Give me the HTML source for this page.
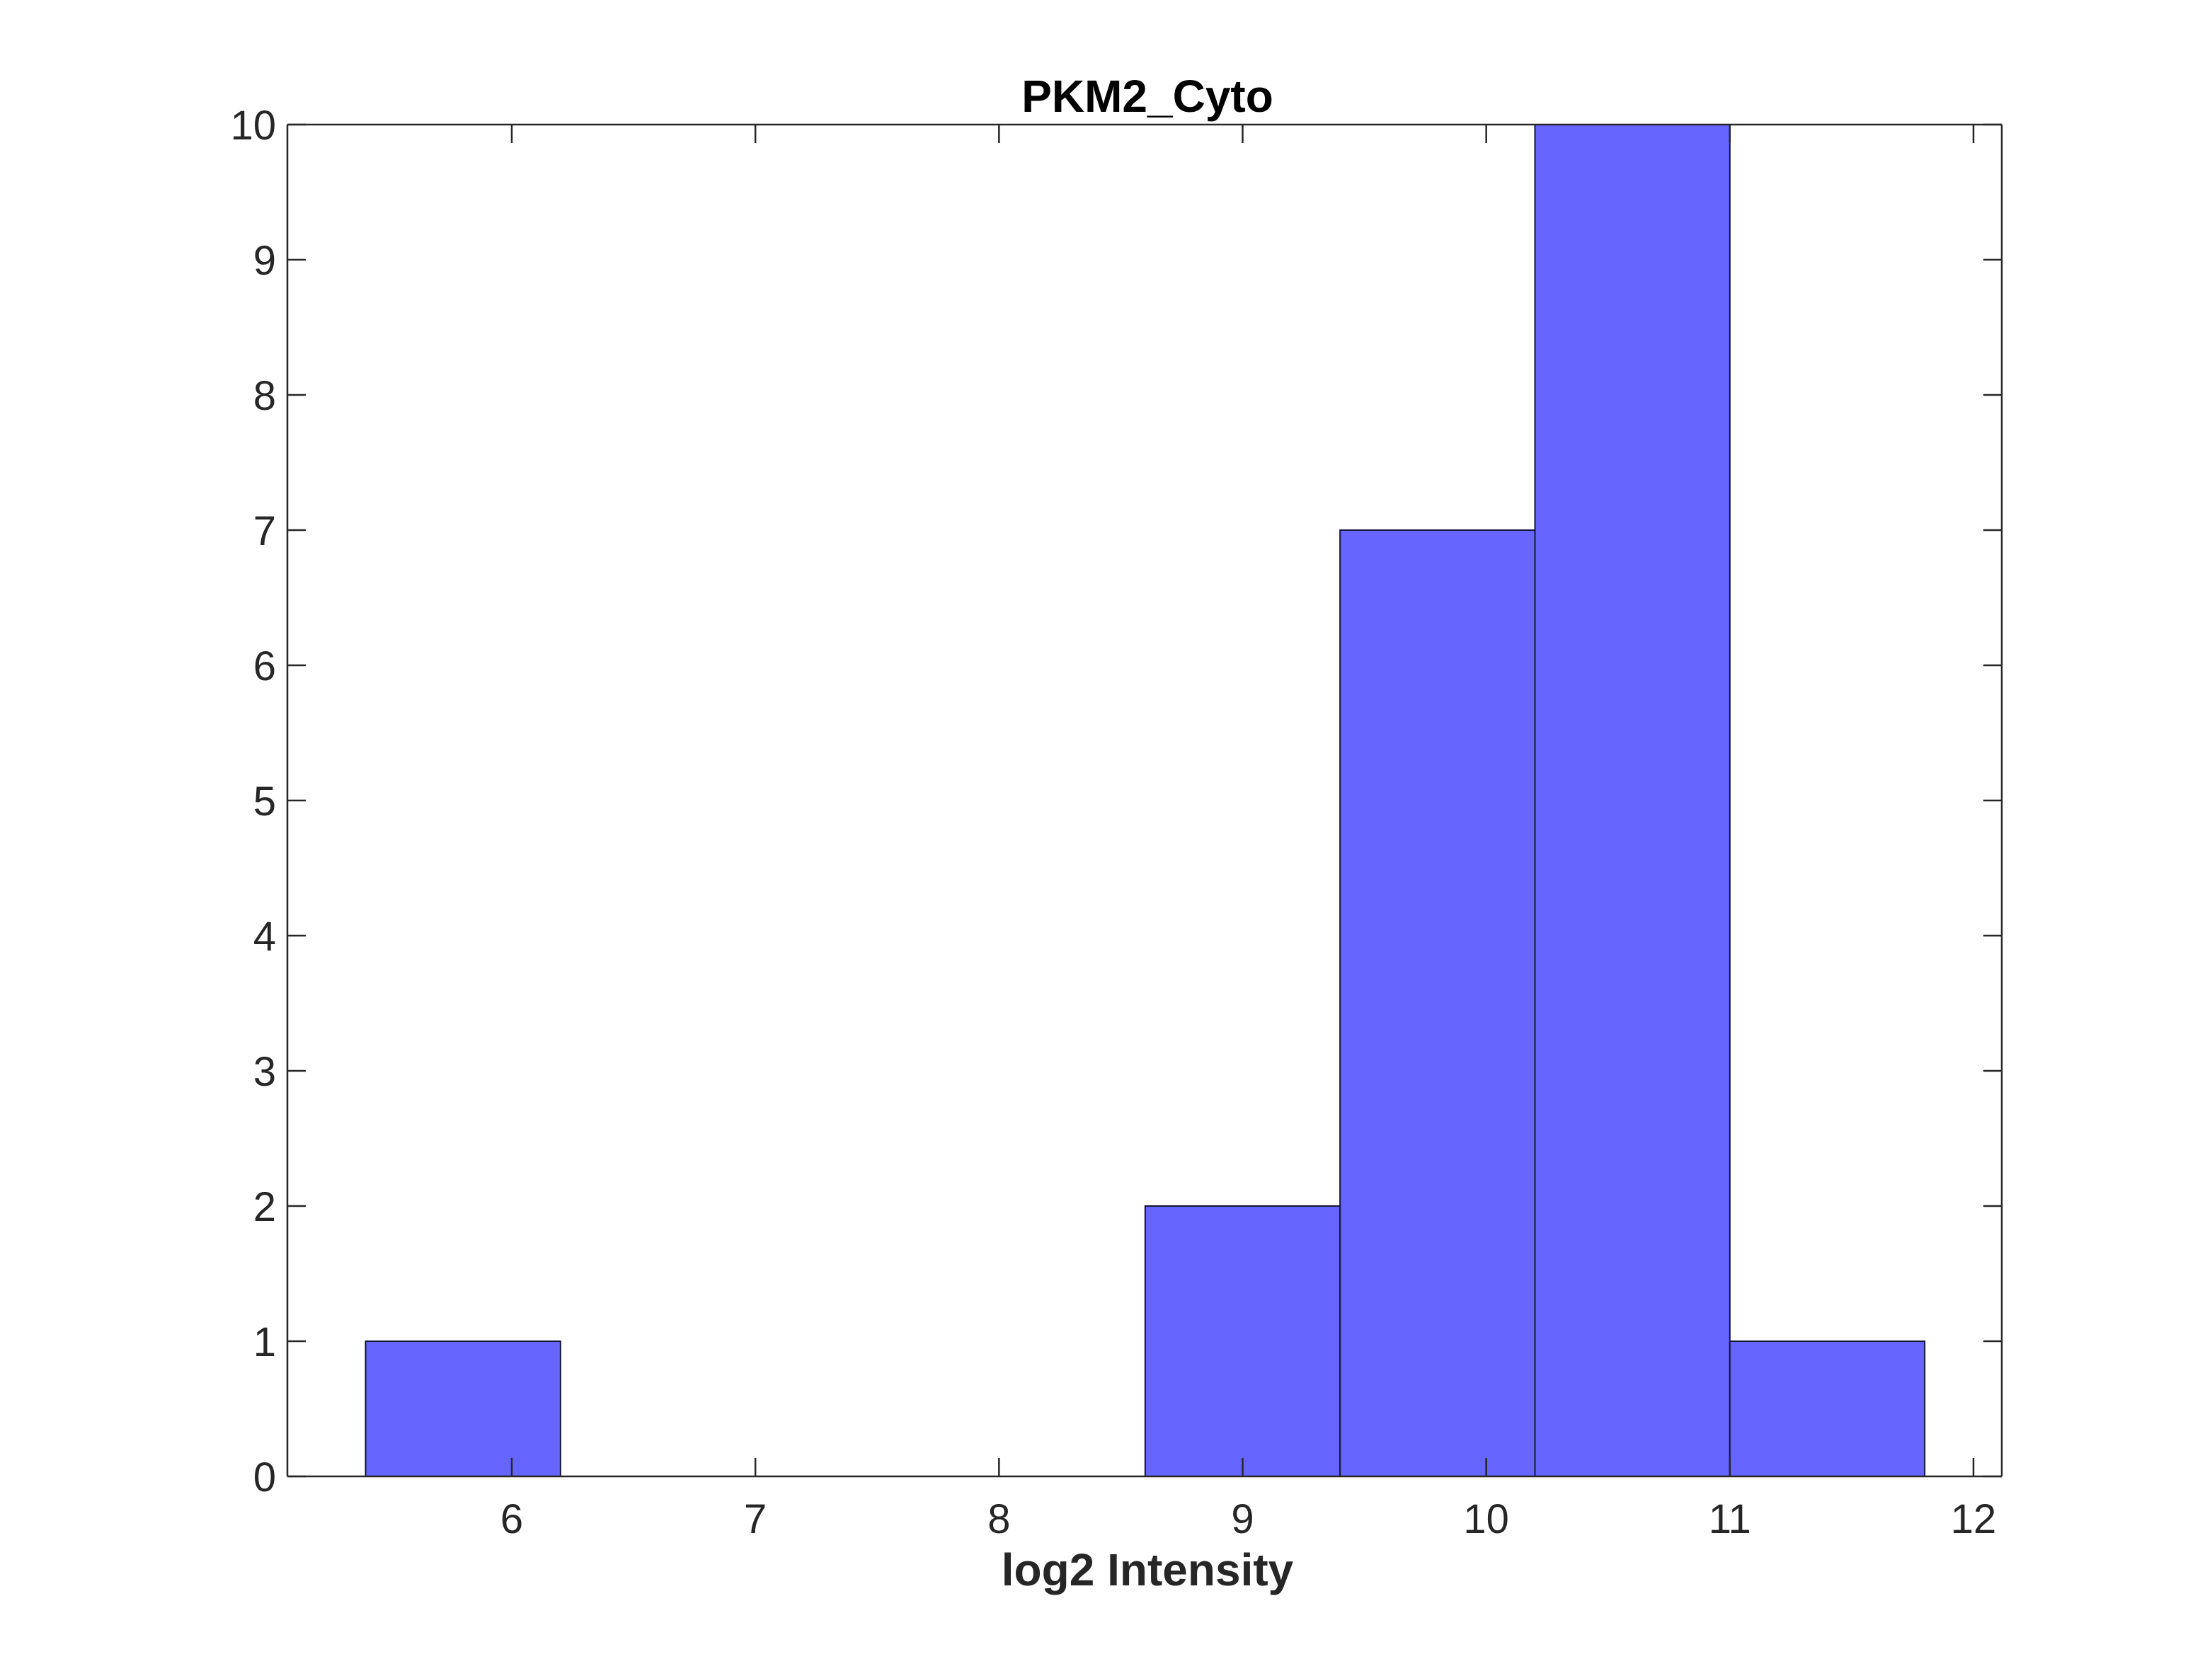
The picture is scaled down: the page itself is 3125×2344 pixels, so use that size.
<!DOCTYPE html>
<html><head><meta charset="utf-8">
<style>html,body{margin:0;padding:0;background:#fff;}svg{display:block;}</style>
</head><body>
<svg id="chart" width="3125" height="2344" viewBox="0 0 3125 2344" xmlns="http://www.w3.org/2000/svg" font-family="'Liberation Sans', sans-serif">
<rect x="0" y="0" width="3125" height="2344" fill="#fff"/>
<g id="bars"></g>
<g id="axes"></g>
<text x="1621" y="158" font-size="64" font-weight="bold" text-anchor="middle" fill="#000">PKM2_Cyto</text>
<text x="1621" y="2240" font-size="64" font-weight="bold" text-anchor="middle" fill="#262626">log2 Intensity</text>
</svg>
<script>
const binEdges = [5.4, 6.2, 7.0, 7.8, 8.6, 9.4, 10.2, 11.0, 11.8];
const counts = [1, 0, 0, 0, 2, 7, 10, 1];
const xTicks = [6, 7, 8, 9, 10, 11, 12];
const yTicks = [0, 1, 2, 3, 4, 5, 6, 7, 8, 9, 10];

const L = 406, R = 2828, T = 176, B = 2086;
const X0 = 6, X1 = 12, PX0 = 723, PX1 = 2788;
const Y0 = 0, Y1 = 10;
function xs(v) { return PX0 + (v - X0) * (PX1 - PX0) / (X1 - X0); }
function ys(v) { return B - (v - Y0) * (B - T) / (Y1 - Y0); }
const NS = 'http://www.w3.org/2000/svg';
const bars = document.getElementById('bars');
const axes = document.getElementById('axes');

counts.forEach((c, i) => {
  if (c <= 0) return;
  const r = document.createElementNS(NS, 'rect');
  const x0 = xs(binEdges[i]), x1 = xs(binEdges[i + 1]);
  r.setAttribute('x', x0); r.setAttribute('width', x1 - x0);
  r.setAttribute('y', ys(c)); r.setAttribute('height', ys(0) - ys(c));
  r.setAttribute('fill', '#6666ff'); r.setAttribute('stroke', '#14143c'); r.setAttribute('stroke-width', '2');
  
  
  bars.appendChild(r);
});

function line(x1, y1, x2, y2, name) {
  const l = document.createElementNS(NS, 'line');
  l.setAttribute('x1', x1); l.setAttribute('y1', y1); l.setAttribute('x2', x2); l.setAttribute('y2', y2);
  l.setAttribute('stroke', '#262626'); l.setAttribute('stroke-width', '2.5');
  
  
  axes.appendChild(l);
}
line(L, T, R, T, 'axes-box-top');
line(L, B, R, B, 'axes-box-bottom');
line(L, T, L, B, 'y-axis-line');
line(R, T, R, B, 'axes-box-right');
const TL = 26;
xTicks.forEach(v => {
  const x = xs(v);
  line(x, B, x, B - TL, 'x-tick');
  line(x, T, x, T + TL, 'x-tick-top');
  const t = document.createElementNS(NS, 'text');
  t.setAttribute('x', x); t.setAttribute('y', B + 80);
  t.setAttribute('font-size', '58'); t.setAttribute('text-anchor', 'middle'); t.setAttribute('fill', '#262626');
  t.textContent = v;
  
  
  axes.appendChild(t);
});
yTicks.forEach(v => {
  const y = ys(v);
  line(L, y, L + TL, y, 'y-tick');
  line(R, y, R - TL, y, 'y-tick-right');
  const t = document.createElementNS(NS, 'text');
  t.setAttribute('x', L - 16); t.setAttribute('y', y + 21);
  t.setAttribute('font-size', '58'); t.setAttribute('text-anchor', 'end'); t.setAttribute('fill', '#262626');
  t.textContent = v;
  
  
  axes.appendChild(t);
});
</script>
</body></html>
